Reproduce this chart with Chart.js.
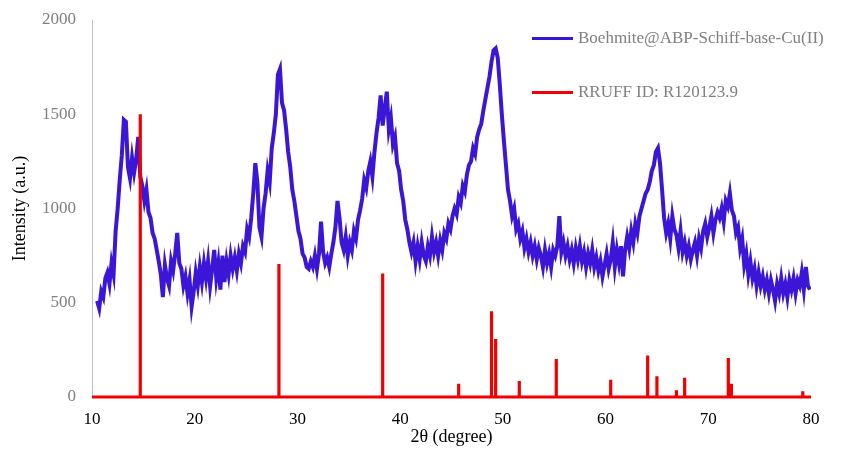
<!DOCTYPE html>
<html>
<head>
<meta charset="utf-8">
<script src="https://cdn.jsdelivr.net/npm/chart.js@4"></script>
<style>
  html, body { margin: 0; padding: 0; background: #fff; }
  #wrap { position: relative; width: 855px; height: 449px; }
  #legend { position: absolute; left: 532px; top: 24px; font-family: "Liberation Serif", serif; font-size: 17px; color: #808080; }
  .item { display: flex; align-items: center; height: 28px; margin-bottom: 26px; }
  .swatch { width: 41px; height: 3px; margin-right: 5px; }
</style>
</head>
<body>
<div id="wrap">
  <canvas id="xrd" width="855" height="449"></canvas>
  <div id="legend">
    <div class="item"><span class="swatch" style="background:#3b16d6"></span>Boehmite@ABP-Schiff-base-Cu(II)</div>
    <div class="item"><span class="swatch" style="background:#f00000"></span>RRUFF ID: R120123.9</div>
  </div>
</div>
<script>
// sample scan, 2θ from 10.5 in 0.2° steps
const scanStart = 10.5;
const scanStep = 0.2;
const sampleIntensity = [
  510, 470, 560, 530, 630, 660, 600, 710, 650, 880,
  1000, 1150, 1280, 1470, 1460, 1220, 1160, 1270, 1190, 1260,
  1380, 1170, 1120, 1040, 1100, 980, 950, 870, 840, 780,
  720, 650, 530, 700, 630, 590, 720, 670, 760, 870,
  710, 680, 590, 640, 550, 620, 480, 560, 660, 590,
  690, 610, 710, 630, 720, 590, 680, 780, 630, 710,
  570, 750, 610, 720, 650, 750, 680, 740, 670, 760,
  710, 800, 770, 890, 850, 950, 1080, 1240, 1140, 900,
  850, 1000, 1080, 1200, 1140, 1320, 1400, 1500, 1710, 1740,
  1560, 1520, 1420, 1300, 1220, 1100, 1040, 960, 880, 840,
  760, 740, 690, 680, 720, 690, 750, 680, 760, 930,
  770, 710, 740, 690, 760, 820, 900, 1040, 950, 820,
  780, 850, 750, 820, 780, 880, 840, 940, 990, 1050,
  1150, 1110, 1200, 1250, 1170, 1300, 1400, 1480, 1600, 1440,
  1530, 1620, 1420, 1480, 1340, 1380, 1240, 1200, 1100, 1040,
  940, 890, 820, 770, 820, 720, 800, 730, 820, 750,
  720, 800, 750, 850, 770, 820, 750, 830, 780, 870,
  840, 920, 890, 960, 1000, 970, 1060, 1030, 1120, 1090,
  1180, 1230, 1250, 1320, 1290, 1380, 1420, 1450, 1520, 1580,
  1640, 1700, 1780, 1840, 1850, 1800, 1660, 1500, 1360, 1230,
  1100, 1040, 960, 1000, 890, 920, 840, 880, 790, 840,
  770, 820, 750, 800, 730, 790, 750, 690, 780, 710,
  760, 690, 780, 750, 800, 960, 770, 820, 750, 800,
  730, 780, 710, 790, 730, 800, 720, 770, 690, 760,
  710, 780, 690, 740, 670, 720, 640, 700, 760, 680,
  730, 820, 690, 780, 710, 800, 640, 780, 850, 790,
  880, 820, 920, 870, 960, 1000, 1040, 1080, 1100, 1140,
  1200, 1230, 1300, 1320, 1240, 1100, 950, 870, 920, 840,
  960, 890, 860, 790, 880, 770, 820, 750, 800, 730,
  780, 820, 750, 840, 790, 880, 920, 850, 900, 960,
  870, 940, 980, 950, 1000, 930, 1040, 1010, 1080, 990,
  960, 870, 900, 790, 840, 700, 760, 650, 720, 630,
  680, 590, 660, 590, 640, 570, 620, 550, 620, 570,
  510, 600, 550, 630, 550, 600, 530, 620, 570, 630,
  550, 620, 590, 660, 570, 690, 590, 570
];

// RRUFF reference sticks
const refPositions = [14.7, 28.2, 38.3, 45.7, 48.9, 49.3, 51.6, 55.2, 60.5, 64.1, 65.0, 66.9, 67.7, 71.95, 72.25, 79.2];
const refIntensity = [1500, 705, 655, 70, 455, 308, 85, 202, 92, 220, 110, 36, 102, 207, 70, 30];

const xTicks = [10, 20, 30, 40, 50, 60, 70, 80];
const yTicks = [0, 500, 1000, 1500, 2000];

const samplePoints = sampleIntensity.map((v, i) => ({ x: +(scanStart + i * scanStep).toFixed(2), y: v }));

const stickPoints = [{ x: 10, y: 0 }];
refPositions.forEach((p, i) => {
  stickPoints.push({ x: p, y: 0 }, { x: p, y: refIntensity[i] }, { x: p, y: 0 });
});
stickPoints.push({ x: 80, y: 0 });

const serif = "'Liberation Serif', 'Times New Roman', serif";

new Chart(document.getElementById("xrd"), {
  type: "line",
  data: {
    datasets: [
      {
        label: "RRUFF ID: R120123.9",
        data: stickPoints,
        borderColor: "#f00000",
        borderWidth: 3.2,
        pointRadius: 0,
        tension: 0,
        clip: 4,
        order: 0,
      },
      {
        label: "Boehmite@ABP-Schiff-base-Cu(II)",
        data: samplePoints,
        borderColor: "#3b16d6",
        borderWidth: 4,
        pointRadius: 0,
        tension: 0,
        order: 1,
      },
    ],
  },
  options: {
    responsive: false,
    animation: false,
    layout: { padding: { top: 20, right: 44, left: 0, bottom: 0 } },
    plugins: { legend: { display: false }, tooltip: { enabled: false } },
    scales: {
      x: {
        type: "linear",
        min: 10,
        max: 80,
        afterBuildTicks: (s) => { s.ticks = xTicks.map((v) => ({ value: v })); },
        afterFit: (s) => { s.height = 52; s.paddingLeft = 0; s.paddingRight = 0; },
        grid: { display: false, drawTicks: false },
        border: { display: false },
        ticks: { color: "#000", padding: 12, font: { family: serif, size: 17 }, callback: (v) => String(v) },
        title: { display: true, text: "2θ (degree)", color: "#000", padding: { top: 0, bottom: 1 }, font: { family: serif, size: 18 } },
      },
      y: {
        min: 0,
        max: 2000,
        afterBuildTicks: (s) => { s.ticks = yTicks.map((v) => ({ value: v })); },
        afterFit: (s) => { s.width = 92; s.paddingTop = 0; s.paddingBottom = 0; },
        grid: { display: false, drawTicks: false },
        border: { display: true, color: "#bfbfbf", width: 1 },
        ticks: { color: "#808080", padding: 16, font: { family: serif, size: 17 }, callback: (v) => String(v) },
        title: { display: true, text: "Intensity (a.u.)", color: "#000", padding: { top: 9, bottom: 0 }, font: { family: serif, size: 18 } },
      },
    },
  },
});
</script>
</body>
</html>
